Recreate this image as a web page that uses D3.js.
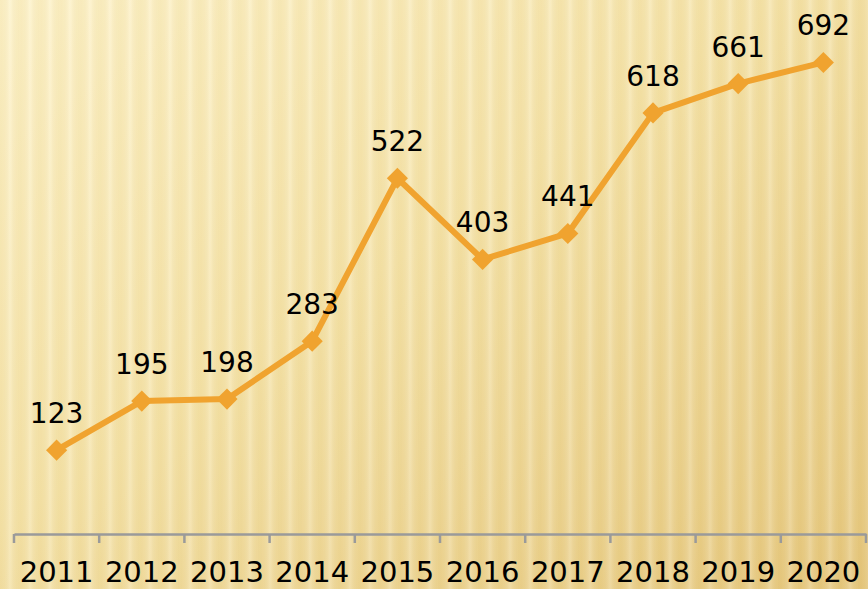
<!DOCTYPE html>
<html><head><meta charset="utf-8">
<script src="https://cdn.jsdelivr.net/npm/d3@7"></script>
<style>html,body{margin:0;padding:0;overflow:hidden;background:#f5e2a6}</style>
</head><body>
<svg id="c" width="868" height="589"></svg>
<script>
const years = ["2011","2012","2013","2014","2015","2016","2017","2018","2019","2020"];
const values = [123,195,198,283,522,403,441,618,661,692];

const W = 868, H = 589;
const FONT = "DejaVu Sans, Verdana, sans-serif";
const svg = d3.select("#c");
const defs = svg.append("defs");

const g1 = defs.append("linearGradient").attr("id","bg").attr("x1","0").attr("y1","0").attr("x2","1").attr("y2","1");
g1.append("stop").attr("offset","0").attr("stop-color","#fdf2c8");
g1.append("stop").attr("offset","0.45").attr("stop-color","#f5e3a8");
g1.append("stop").attr("offset","1").attr("stop-color","#e5c67b");
svg.append("rect").attr("width",W).attr("height",H).attr("fill","url(#bg)");

// soft vertical stripes
const pat = defs.append("pattern").attr("id","st").attr("patternUnits","userSpaceOnUse").attr("width",20).attr("height",H);
const sg = defs.append("linearGradient").attr("id","sg").attr("x1","0").attr("x2","1").attr("y1","0").attr("y2","0");
sg.append("stop").attr("offset","0").attr("stop-color","#c9a650").attr("stop-opacity",0.07);
sg.append("stop").attr("offset","0.5").attr("stop-color","#ffffff").attr("stop-opacity",0.22);
sg.append("stop").attr("offset","1").attr("stop-color","#c9a650").attr("stop-opacity",0.07);
pat.append("rect").attr("width",20).attr("height",H).attr("fill","url(#sg)");
svg.append("rect").attr("width",W).attr("height",H).attr("fill","url(#st)");

const x = d3.scaleBand().domain(years).range([14, 866]).padding(0);
const y = d3.scaleLinear().domain([0, 700]).range([534, 57]);

// axis
const ax = svg.append("g").attr("transform","translate(0,534)")
  .call(d3.axisBottom(x).tickSize(0).tickPadding(24));
ax.select(".domain").attr("stroke","#9a9a9a").attr("stroke-width",2.5);
ax.selectAll(".tick text").attr("font-family",FONT).attr("font-size",29).attr("fill","#000").attr("dy","0.71em").attr("y",27);
const bounds = years.map(d => x(d)).concat([x(years[years.length-1]) + x.bandwidth()]);
ax.selectAll(".bt").data(bounds).join("line").attr("class","bt")
  .attr("x1",d=>d).attr("x2",d=>d).attr("y1",0).attr("y2",9)
  .attr("stroke","#9a9a9a").attr("stroke-width",2.5);

const cx = d => x(d) + x.bandwidth()/2;
const line = d3.line().x((d,i)=>cx(years[i])).y(d=>y(d));
svg.append("path").datum(values).attr("d",line).attr("fill","none")
  .attr("stroke","#f0a32f").attr("stroke-width",6).attr("stroke-linejoin","round");

svg.selectAll(".mk").data(values).join("path").attr("class","mk")
  .attr("d", d3.symbol(d3.symbolDiamond2, 285))
  .attr("transform",(d,i)=>`translate(${cx(years[i])},${y(d)})`)
  .attr("fill","#f0a32f");

svg.selectAll(".lb").data(values).join("text").attr("class","lb")
  .attr("x",(d,i)=>cx(years[i])).attr("y",d=>y(d)-27)
  .attr("text-anchor","middle").attr("font-family",FONT)
  .attr("font-size",28).attr("fill","#000").text(d=>d);
</script>
</body></html>
